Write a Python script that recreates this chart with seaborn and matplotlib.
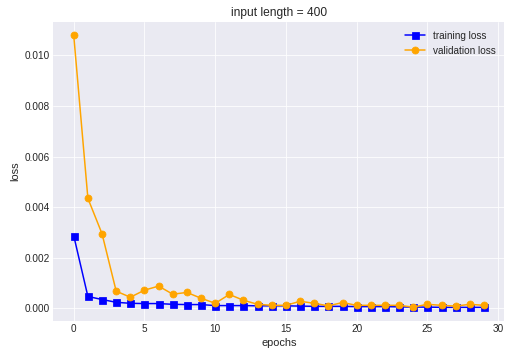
import numpy as np
import matplotlib
matplotlib.use("Agg")
import matplotlib.pyplot as plt
import seaborn as sns

epochs = list(range(30))
train_loss = [0.00287, 0.00047, 0.00035, 0.00024, 0.00020, 0.00019, 0.00019, 0.00016,
              0.00015, 0.00015, 0.00011, 0.00011, 0.00011, 0.00010, 0.00010, 0.00010,
              0.00009, 0.00008, 0.00008, 0.00008, 0.00007, 0.00007, 0.00007, 0.00006,
              0.00005, 0.00005, 0.00004, 0.00004, 0.00004, 0.00004]
val_loss = [0.01079, 0.00435, 0.00295, 0.00068, 0.00044, 0.00072, 0.00088, 0.00056,
            0.00063, 0.00040, 0.00020, 0.00055, 0.00032, 0.00016, 0.00012, 0.00012,
            0.00028, 0.00020, 0.00010, 0.00023, 0.00012, 0.00012, 0.00012, 0.00012,
            0.00005, 0.00016, 0.00012, 0.00009, 0.00016, 0.00012]

sns.set_style("darkgrid", {"axes.facecolor": "#EAEAF2", "grid.color": "white"})
plt.rcParams['font.family'] = ['Liberation Sans', 'DejaVu Sans']
plt.rcParams['text.color'] = '.15'
plt.rcParams['axes.labelcolor'] = '.15'
plt.rcParams['xtick.color'] = '.15'
plt.rcParams['ytick.color'] = '.15'

fig, ax = plt.subplots(figsize=(507 / 72, 359 / 72), dpi=72)
fig.subplots_adjust(left=0.105, right=0.995, top=0.939, bottom=0.106)

sns.lineplot(x=epochs, y=train_loss, ax=ax, color='blue', marker='s', markersize=7,
             markeredgecolor='blue', linewidth=1.5, label='training loss')
sns.lineplot(x=epochs, y=val_loss, ax=ax, color='orange', marker='o', markersize=7,
             markeredgecolor='orange', linewidth=1.5, label='validation loss')

ax.set_title('input length = 400', fontsize=12)
ax.set_xlabel('epochs', fontsize=11)
ax.set_ylabel('loss', fontsize=11)
ax.tick_params(labelsize=10, length=0)
ax.set_xticks([0, 5, 10, 15, 20, 25, 30])
ax.set_yticks([0.0, 0.002, 0.004, 0.006, 0.008, 0.010])
ax.yaxis.set_major_formatter(matplotlib.ticker.FormatStrFormatter('%.3f'))
for s in ax.spines.values():
    s.set_visible(False)
ax.legend(loc='upper right', frameon=False, fontsize=10)

fig.savefig('out.png', dpi=72)
